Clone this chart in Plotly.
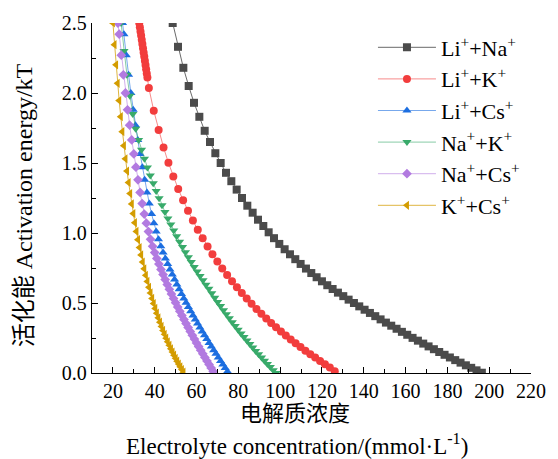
import plotly.graph_objects as go

# ---------------- data ----------------
li_na_x = [48.6, 51.15, 53.7, 56.25, 58.8, 61.35, 63.9, 66.45, 69.0, 71.55, 74.1, 76.65, 79.2, 81.75,
           84.3, 86.85, 89.4, 91.95, 94.5, 97.05, 99.6, 102.15, 104.7, 107.25, 109.8, 112.35, 114.9,
           117.45, 120.0, 122.55, 125.1, 127.65, 130.2, 132.75, 135.3, 137.85, 140.4, 142.95, 145.5,
           148.05, 150.6, 153.15, 155.7, 158.25, 160.8, 163.35, 165.9, 168.45, 171.0, 173.55, 176.1,
           178.65, 181.2, 183.75, 186.3, 188.85, 191.4, 193.95, 196.5]
li_na_y = [2.50, 2.33, 2.18, 2.05, 1.93, 1.83, 1.73, 1.65, 1.57, 1.50, 1.43, 1.37, 1.31, 1.25,
           1.195, 1.145, 1.095, 1.05, 1.005, 0.963, 0.922, 0.884, 0.848, 0.813, 0.779, 0.746, 0.714,
           0.684, 0.655, 0.627, 0.600, 0.574, 0.549, 0.524, 0.500, 0.476, 0.452, 0.429, 0.406,
           0.383, 0.360, 0.338, 0.316, 0.294, 0.273, 0.251, 0.231, 0.210, 0.190, 0.170, 0.150,
           0.130, 0.111, 0.092, 0.074, 0.055, 0.037, 0.019, 0.002]

li_k_x = [32.6, 32.9, 33.2, 33.5, 33.8, 34.1, 34.4, 34.7, 35.0, 35.3, 35.6, 35.9, 36.2, 36.5,
          37.2, 39.54, 41.88, 44.22, 46.56, 48.9, 51.24, 53.58, 55.92, 58.26, 60.6, 62.94, 65.28,
          67.62, 69.96, 72.3, 74.64, 76.98, 79.32, 81.66, 84.0, 86.34, 88.68, 91.02, 93.36, 95.7,
          98.04, 100.38, 102.72, 105.06, 107.4, 109.74, 112.08, 114.42, 116.76, 119.1, 121.44,
          123.78, 126.12]
li_k_y = [2.50, 2.47, 2.44, 2.41, 2.38, 2.35, 2.32, 2.29, 2.26, 2.23, 2.20, 2.17, 2.14, 2.11,
          2.035, 1.873, 1.735, 1.611, 1.501, 1.404, 1.315, 1.234, 1.159, 1.089, 1.023, 0.962, 0.904,
          0.849, 0.797, 0.747, 0.700, 0.655, 0.612, 0.571, 0.532, 0.494, 0.458, 0.423, 0.389, 0.357,
          0.326, 0.296, 0.267, 0.239, 0.212, 0.185, 0.159, 0.134, 0.110, 0.086, 0.063,
          0.040, 0.012]

li_cs_x = [24.6, 25.3, 26.4, 27.5, 28.6, 29.7, 30.8, 31.9, 33.0, 34.1, 35.2, 36.3, 37.4, 38.5,
           39.6, 40.7, 41.8, 42.9, 44.0, 45.1, 46.2, 47.3, 48.4, 49.5, 50.6, 51.7, 52.8, 53.9,
           55.0, 56.1, 57.2, 58.3, 59.4, 60.5, 61.6, 62.7, 63.8, 64.9, 66.0, 67.1, 68.2, 69.3,
           70.4, 71.5, 72.6, 73.7, 74.8]
li_cs_y = [2.50, 2.42, 2.27, 2.13, 2.00, 1.88, 1.77, 1.665, 1.565, 1.47, 1.38, 1.29, 1.21, 1.135,
           1.07, 1.01, 0.955, 0.905, 0.86, 0.818, 0.778, 0.740, 0.703, 0.667, 0.632, 0.598, 0.565,
           0.533, 0.502, 0.471, 0.441, 0.411, 0.382, 0.353, 0.325, 0.297, 0.269, 0.242, 0.215,
           0.189, 0.163, 0.137, 0.111, 0.086, 0.061, 0.036, 0.011]

na_k_x = [23.9, 25.3, 26.7, 28.1, 29.5, 30.9, 32.3, 33.7, 35.1, 36.5, 37.9, 39.3, 40.7, 42.1,
          43.5, 44.9, 46.3, 47.7, 49.1, 50.5, 51.9, 53.3, 54.7, 56.1, 57.5, 58.9, 60.3, 61.7,
          63.1, 64.5, 65.9, 67.3, 68.7, 70.1, 71.5, 72.9, 74.3, 75.7, 77.1, 78.5, 79.9, 81.3,
          82.7, 84.1, 85.5, 86.9, 88.3, 89.7, 91.1, 92.5, 93.9, 95.3, 96.7, 98.1]
na_k_y = [2.50, 2.30, 2.13, 1.98, 1.85, 1.745, 1.665, 1.595, 1.530, 1.468, 1.410, 1.355, 1.300,
          1.248, 1.198, 1.150, 1.104, 1.060, 1.018, 0.977, 0.938, 0.900, 0.863, 0.827, 0.792,
          0.758, 0.725, 0.693, 0.662, 0.631, 0.601, 0.569, 0.538, 0.508, 0.478, 0.448, 0.419,
          0.391, 0.363, 0.336, 0.309, 0.283, 0.257, 0.232, 0.207, 0.182, 0.158, 0.134, 0.111,
          0.0875, 0.0648, 0.0423, 0.0202, 0.0]

na_cs_x = [22.4, 23, 24, 25, 26, 27, 28, 29, 30, 31, 32, 33, 34, 35, 36, 37, 38, 39, 40, 41, 42,
           43, 44, 45, 46, 47, 48, 49, 50, 51, 52, 53, 54, 55, 56, 57, 58, 59, 60, 61, 62, 63,
           64, 65, 66, 67, 68]
na_cs_y = [2.50, 2.42, 2.27, 2.13, 2.00, 1.88, 1.77, 1.665, 1.565, 1.47, 1.38, 1.29, 1.21, 1.135,
           1.07, 1.01, 0.955, 0.905, 0.86, 0.818, 0.778, 0.740, 0.703, 0.667, 0.632, 0.598, 0.565,
           0.533, 0.502, 0.471, 0.441, 0.411, 0.382, 0.353, 0.325, 0.297, 0.269, 0.242, 0.215,
           0.189, 0.163, 0.137, 0.111, 0.086, 0.061, 0.036, 0.011]

k_cs_x = [20.0, 20.75, 21.5, 22.25, 23.0, 23.75, 24.5, 25.25, 26.0, 26.75, 27.5, 28.25, 29.0,
          29.75, 30.5, 31.25, 32.0, 32.75, 33.5, 34.25, 35.0, 35.75, 36.5, 37.25, 38.0, 38.75,
          39.5, 40.25, 41.0, 41.75, 42.5, 43.25, 44.0, 44.75, 45.5, 46.25, 47.0, 47.75, 48.5,
          49.25, 50.0, 50.75, 51.5, 52.25, 53.0, 53.75]
k_cs_y = [2.50, 2.345, 2.201, 2.069, 1.946, 1.831, 1.724, 1.624, 1.530, 1.442, 1.360, 1.282, 1.208,
          1.139, 1.074, 1.011, 0.952, 0.896, 0.843, 0.792, 0.744, 0.698, 0.654, 0.612, 0.572, 0.533,
          0.496, 0.461, 0.427, 0.394, 0.363, 0.333, 0.304, 0.276, 0.249, 0.223, 0.198, 0.173, 0.150,
          0.127, 0.105, 0.084, 0.064, 0.044, 0.025, 0.006]

series_names = ["Li<sup>+</sup>+Na<sup>+</sup>", "Li<sup>+</sup>+K<sup>+</sup>",
                "Li<sup>+</sup>+Cs<sup>+</sup>", "Na<sup>+</sup>+K<sup>+</sup>",
                "Na<sup>+</sup>+Cs<sup>+</sup>", "K<sup>+</sup>+Cs<sup>+</sup>"]

x_ticks = [20, 40, 60, 80, 100, 120, 140, 160, 180, 200, 220]
y_ticks = [0.0, 0.5, 1.0, 1.5, 2.0, 2.5]

# ---------------- styling ----------------
xs = [li_na_x, li_k_x, li_cs_x, na_k_x, na_cs_x, k_cs_x]
ys = [li_na_y, li_k_y, li_cs_y, na_k_y, na_cs_y, k_cs_y]
marker_colors = ["#4b4b4b", "#f23d3d", "#1c6ee0", "#38aa6a", "#b27ae0", "#d39c00"]
line_colors = ["#6a6a6a", "rgba(242,61,61,0.6)", "rgba(28,110,224,0.6)",
               "rgba(56,170,106,0.6)", "rgba(178,122,224,0.6)", "rgba(211,156,0,0.75)"]
symbols = ["square", "circle", "triangle-up", "triangle-down", "diamond", "triangle-left"]
sizes = [8, 8, 8, 8, 7.5, 8]

SERIF = "\"Liberation Serif\", \"Times New Roman\", serif"
CJK = "\"Liberation Serif\", \"Noto Sans CJK SC\", serif"

fig = go.Figure()
for i in range(6):
    fig.add_trace(go.Scatter(
        x=xs[i], y=ys[i], mode="lines+markers", name=series_names[i],
        legendgroup=str(i),
        line=dict(color=line_colors[i], width=1),
        marker=dict(symbol=symbols[i], size=sizes[i], color=marker_colors[i],
                    line=dict(width=0)),
    ))

tick_font = dict(family=SERIF, size=20, color="black")
axis_common = dict(
    showline=True, linecolor="black", linewidth=1.3, mirror=False,
    showgrid=False, zeroline=False, ticks="inside", ticklen=6, tickwidth=1.2,
    tickcolor="black",
)
fig.update_xaxes(range=[10, 220], tickvals=x_ticks, tickfont=tick_font,
                 minor=dict(ticks="inside", ticklen=3.5, dtick=10, tick0=0, tickcolor="black", tickwidth=1.2),
                 **axis_common)
fig.update_yaxes(range=[0, 2.5], tickvals=y_ticks, tickformat=".1f", tickfont=tick_font,
                 minor=dict(ticks="inside", ticklen=3.5, dtick=0.25, tick0=0, tickcolor="black", tickwidth=1.2),
                 **axis_common)

fig.update_layout(
    width=558, height=459,
    margin=dict(l=92, r=18, t=20, b=86),
    paper_bgcolor="white", plot_bgcolor="white",
    font=dict(family=SERIF, size=20, color="black"),
    showlegend=True,
    legend=dict(x=0.64, y=0.99, xanchor="left", yanchor="top",
                font=dict(family=SERIF, size=22, color="black"),
                bgcolor="rgba(0,0,0,0)", itemwidth=58, tracegroupgap=2,
                traceorder="normal"),
    annotations=[
        dict(text="电解质浓度", xref="paper", yref="paper", x=0.462, y=-0.115,
             xanchor="center", yanchor="middle", showarrow=False,
             font=dict(family=CJK, size=22, color="black")),
        dict(text="Electrolyte concentration/(mmol·L<sup>-1</sup>)", xref="paper", yref="paper",
             x=0.4676, y=-0.203, xanchor="center", yanchor="middle", showarrow=False,
             font=dict(family=SERIF, size=23, color="black")),
        dict(text="活化能 Activation energy/kT", xref="paper", yref="paper", x=-0.156, y=0.478,
             xanchor="center", yanchor="middle", showarrow=False, textangle=-90,
             font=dict(family=CJK, size=24, color="black")),
    ],
)

fig.write_html("out.html", config={"displayModeBar": False})

# remove the browser's default page margin so the figure sits at the window origin
with open("out.html", "r", encoding="utf-8") as f:
    html = f.read()
html = html.replace("<body>", "<body style=\"margin:0;padding:0;overflow:hidden;\">", 1)
with open("out.html", "w", encoding="utf-8") as f:
    f.write(html)
